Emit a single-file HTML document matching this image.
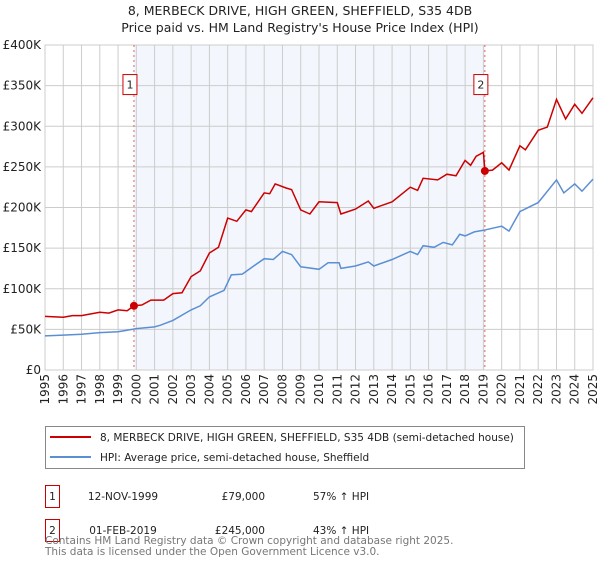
<!DOCTYPE html>
<html><head><meta charset="utf-8"><style>
body{margin:0;background:#fff;font-family:"DejaVu Sans","Liberation Sans",sans-serif;}
svg text{font-family:"DejaVu Sans","Liberation Sans",sans-serif;}
</style></head><body>
<svg id="chart" width="600" height="560" xmlns="http://www.w3.org/2000/svg">
<text x="300" y="15" font-size="12.5" text-anchor="middle" fill="#222">8, MERBECK DRIVE, HIGH GREEN, SHEFFIELD, S35 4DB</text>
<text x="300" y="32" font-size="12.5" text-anchor="middle" fill="#222">Price paid vs. HM Land Registry's House Price Index (HPI)</text>
<g id="plot"></g>
<g>
<rect x="45.5" y="426.5" width="479" height="42" fill="#fff" stroke="#888"/>
<line x1="50" y1="437" x2="91" y2="437" stroke="#cc0000" stroke-width="2"/>
<text x="100" y="441" font-size="10.5" fill="#222">8, MERBECK DRIVE, HIGH GREEN, SHEFFIELD, S35 4DB (semi-detached house)</text>
<line x1="50" y1="457" x2="91" y2="457" stroke="#5b8fd4" stroke-width="2"/>
<text x="100" y="461" font-size="10.5" fill="#222">HPI: Average price, semi-detached house, Sheffield</text>
</g>
<g font-size="10.5" fill="#222">
<rect x="45.5" y="485.5" width="14" height="22" fill="none" stroke="#cc0000"/>
<text x="52.5" y="500" text-anchor="middle">1</text>
<text x="123" y="500" text-anchor="middle">12-NOV-1999</text>
<text x="265" y="500" text-anchor="end">£79,000</text>
<text x="313" y="500">57% ↑ HPI</text>
<rect x="45.5" y="519.5" width="14" height="22" fill="none" stroke="#cc0000"/>
<text x="52.5" y="534" text-anchor="middle">2</text>
<text x="123" y="534" text-anchor="middle">01-FEB-2019</text>
<text x="265" y="534" text-anchor="end">£245,000</text>
<text x="313" y="534">43% ↑ HPI</text>
</g>
<text x="45" y="544" font-size="10.5" fill="#777">Contains HM Land Registry data © Crown copyright and database right 2025.</text>
<text x="45" y="555" font-size="10.5" fill="#777">This data is licensed under the Open Government Licence v3.0.</text>
</svg>
<script>
const propYears=[1995,1996,1996.5,1997,1998,1998.5,1999,1999.5,1999.87,2000.3,2000.8,2001.5,2002,2002.5,2003,2003.5,2004,2004.5,2005,2005.5,2006,2006.3,2007,2007.3,2007.6,2008.2,2008.5,2009,2009.5,2010,2011,2011.2,2012,2012.7,2013,2014,2015,2015.4,2015.7,2016.5,2017,2017.5,2018,2018.3,2018.6,2019,2019.08,2019.5,2020,2020.4,2021,2021.3,2022,2022.5,2023,2023.5,2024,2024.4,2025];
const propValues=[66,65,67,67,71,70,74,73,79,80,86,86,94,95,115,122,144,151,187,183,197,195,218,217,229,224,222,197,192,207,206,192,198,208,199,207,225,221,236,234,241,239,258,252,263,268,245,246,255,246,276,271,295,299,333,309,327,316,335];
const hpiYears=[1995,1996,1997,1998,1999,2000,2001,2001.3,2002,2003,2003.5,2004,2004.8,2005.2,2005.8,2006.3,2007,2007.5,2008,2008.5,2009,2010,2010.5,2011.1,2011.2,2012,2012.7,2013,2014,2015,2015.4,2015.7,2016.3,2016.8,2017.3,2017.7,2018,2018.5,2019,2020,2020.4,2021,2022,2023,2023.4,2024,2024.4,2025];
const hpiValues=[42,43,44,46,47,51,53,55,61,74,79,90,98,117,118,126,137,136,146,142,127,124,132,132,125,128,133,128,136,146,142,153,151,157,154,167,165,170,172,177,171,195,206,234,218,229,220,235];
const saleYears=[1999.87,2019.08];
const saleValues=[79,245];
const saleLabels=["1","2"];
const yTicks=[0,50,100,150,200,250,300,350,400];
const yTickLabels=["£0","£50K","£100K","£150K","£200K","£250K","£300K","£350K","£400K"];
const xTicks=[1995,1996,1997,1998,1999,2000,2001,2002,2003,2004,2005,2006,2007,2008,2009,2010,2011,2012,2013,2014,2015,2016,2017,2018,2019,2020,2021,2022,2023,2024,2025];

const L=45,R=593,T=45,B=370;
const xs=y=>L+(y-1995)/30*(R-L);
const ys=v=>B-v/400*(B-T);
const NS="http://www.w3.org/2000/svg";
const g=document.getElementById('plot');
function mk(tag,attrs,parent){const e=document.createElementNS(NS,tag);for(const k in attrs)e.setAttribute(k,attrs[k]);(parent||g).appendChild(e);return e;}
let e;
e=mk('rect',{x:xs(saleYears[0]),y:T,width:xs(saleYears[1])-xs(saleYears[0]),height:B-T,fill:'#f3f7fd'});


xTicks.forEach((t,i)=>{
 e=mk('line',{x1:xs(t),x2:xs(t),y1:T,y2:B,stroke:'#cccccc','stroke-width':1});
 
 
 e=mk('text',{x:0,y:0,'font-size':12,fill:'#222','text-anchor':'end',transform:`translate(${xs(t)+4},${B+4}) rotate(-90)`});
 e.textContent=String(t);
 
 
});
yTicks.forEach((t,i)=>{
 e=mk('line',{x1:L,x2:R,y1:ys(t),y2:ys(t),stroke:'#cccccc','stroke-width':1});
 
 
 e=mk('text',{x:L-4,y:ys(t)+4,'font-size':12,fill:'#222','text-anchor':'end'});
 e.textContent=yTickLabels[i];
 
 
});
e=mk('rect',{x:L,y:T,width:R-L,height:B-T,fill:'none',stroke:'#cccccc'});


saleYears.forEach((s,i)=>{
 e=mk('line',{x1:xs(s),x2:xs(s),y1:T,y2:B,stroke:'#e06060','stroke-dasharray':'2,3','stroke-width':1});
 
 
 e=mk('rect',{x:xs(s)-11,y:ys(355)-7,width:14,height:20,fill:'#fff',stroke:'#cc0000'});
 
 
 e=mk('text',{x:xs(s)-4,y:ys(355)+7,'font-size':11,fill:'#222','text-anchor':'middle'});
 e.textContent=saleLabels[i];
 
 
});
function path(xv,yv){return xv.map((x,i)=>(i?'L':'M')+xs(x).toFixed(1)+','+ys(yv[i]).toFixed(1)).join('');}
e=mk('path',{d:path(hpiYears,hpiValues),fill:'none',stroke:'#5b8fd4','stroke-width':1.5});


e=mk('path',{d:path(propYears,propValues),fill:'none',stroke:'#cc0000','stroke-width':1.5});


saleYears.forEach((s,i)=>{
 e=mk('circle',{cx:xs(s),cy:ys(saleValues[i]),r:4,fill:'#cc0000'});
 
 
});
</script>
</body></html>
